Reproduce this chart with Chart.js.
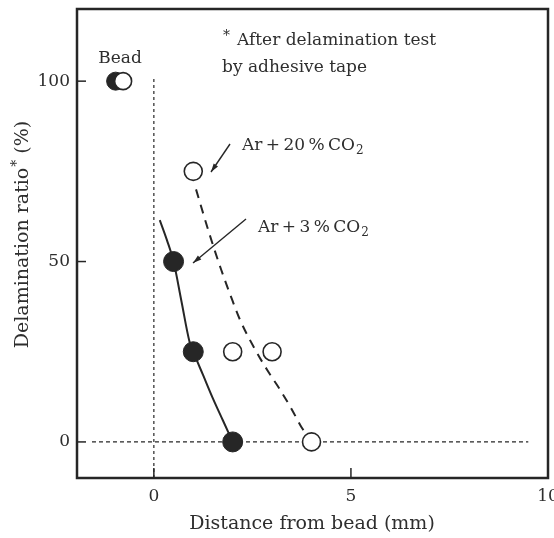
<!DOCTYPE html>
<html>
<head>
<meta charset="utf-8">
<script src="https://cdn.jsdelivr.net/npm/chart.js@4.4.1/dist/chart.umd.min.js"></script>
<style>
  html, body { margin: 0; padding: 0; background: #fff; }
  #wrap { width: 554px; height: 538px; }
</style>
</head>
<body>
<div id="wrap"><canvas id="chart" width="554" height="538"></canvas></div>
<script>
// tick values
const xTicks = [0, 5, 10];
const yTicks = [0, 50, 100];

// bead reference (half filled / half open symbol)
const beadFilledX = [-0.97];
const beadFilledY = [100];
const beadOpenX = [-0.78];
const beadOpenY = [100];

// Ar + 3% CO2 (filled circles)
const co2LowX = [0.5, 1, 2];
const co2LowY = [50, 25, 0];

// Ar + 20% CO2 (open circles)
const co2HighX = [1, 2, 3, 4];
const co2HighY = [75, 25, 25, 0];

// trend curves
const curveLowX = [0.15, 0.33, 0.5, 0.7, 0.9, 1.0, 1.25, 1.5, 1.75, 2.0];
const curveLowY = [61.5, 56, 50, 39, 28, 25, 18.5, 12, 6, 0];
const curveHighX = [1.07, 1.4, 1.7, 2.0, 2.2, 2.55, 2.9, 3.2, 3.5, 3.75, 3.95];
const curveHighY = [70, 58, 48, 39, 33.5, 26, 19.5, 14.5, 9, 4, 1];

// dotted reference lines
const vRefX = [0, 0];
const vRefY = [-10, 101];
const hRefX = [-1.57, 9.5];
const hRefY = [0, 0];

const ink = "#262626";
const txt = "#2e2e2e";
const serif = "'DejaVu Serif', serif";
const thin = "\u2009";

function pts(xs, ys) {
  return xs.map(function (x, i) { return { x: x, y: ys[i] }; });
}

// frame, inward ticks and annotation text
const decor = {
  id: "decor",
  afterDraw: function (chart) {
    const ctx = chart.ctx;
    const a = chart.chartArea;
    const sx = chart.scales.x, sy = chart.scales.y;
    ctx.save();
    ctx.strokeStyle = ink;
    ctx.lineWidth = 2.5;
    ctx.strokeRect(a.left, a.top, a.right - a.left, a.bottom - a.top);

    ctx.lineWidth = 1.5;
    yTicks.forEach(function (v) {
      const p = sy.getPixelForValue(v);
      ctx.beginPath(); ctx.moveTo(a.left, p); ctx.lineTo(a.left + 9, p); ctx.stroke();
    });
    xTicks.forEach(function (v) {
      const p = sx.getPixelForValue(v);
      ctx.beginPath(); ctx.moveTo(p, a.bottom); ctx.lineTo(p, a.bottom - 10); ctx.stroke();
    });

    // arrows
    function arrow(x1, y1, x2, y2) {
      const ang = Math.atan2(y2 - y1, x2 - x1);
      ctx.lineWidth = 1.4;
      ctx.beginPath(); ctx.moveTo(x1, y1); ctx.lineTo(x2, y2); ctx.stroke();
      ctx.beginPath();
      ctx.moveTo(x2, y2);
      ctx.lineTo(x2 - 9 * Math.cos(ang - 0.3), y2 - 9 * Math.sin(ang - 0.3));
      ctx.lineTo(x2 - 9 * Math.cos(ang + 0.3), y2 - 9 * Math.sin(ang + 0.3));
      ctx.closePath();
      ctx.fillStyle = ink;
      ctx.fill();
    }
    arrow(230, 144, 211, 172);
    arrow(246, 219, 193, 263);

    ctx.fillStyle = txt;
    ctx.textBaseline = "alphabetic";
    ctx.font = "17px " + serif;
    ctx.textAlign = "center";
    ctx.fillText("Bead", 120, 63);
    ctx.textAlign = "left";
    ctx.fillText("After delamination test", 237, 45);
    ctx.fillText("by adhesive tape", 222, 72);
    ctx.font = "14px " + serif;
    ctx.fillText("*", 223, 40);

    function gas(label, x, y) {
      ctx.font = "17px " + serif;
      ctx.fillText(label, x, y);
      const w = ctx.measureText(label).width;
      ctx.font = "12px " + serif;
      ctx.fillText("2", x + w + 1, y + 4);
    }
    gas("Ar" + thin + "+" + thin + "20" + thin + "%" + thin + "CO", 242, 150);
    gas("Ar" + thin + "+" + thin + "3" + thin + "%" + thin + "CO", 258, 232);

    // axis titles
    ctx.font = "19px " + serif;
    ctx.textAlign = "center";
    ctx.fillText("Distance from bead (mm)", 312, 529);

    ctx.translate(28, 235);
    ctx.rotate(-Math.PI / 2);
    const main = "Delamination ratio";
    const tail = " (%)";
    ctx.font = "19px " + serif;
    const w1 = ctx.measureText(main).width;
    const w3 = ctx.measureText(tail).width;
    ctx.font = "14px " + serif;
    const w2 = ctx.measureText("*").width;
    let x0 = -(w1 + w2 + w3) / 2;
    ctx.textAlign = "left";
    ctx.font = "19px " + serif;
    ctx.fillText(main, x0, 0);
    ctx.font = "14px " + serif;
    ctx.fillText("*", x0 + w1 + 1, -7);
    ctx.font = "19px " + serif;
    ctx.fillText(tail, x0 + w1 + w2 + 1, 0);
    ctx.restore();
  }
};

const ctx = document.getElementById("chart").getContext("2d");
new Chart(ctx, {
  type: "scatter",
  data: {
    datasets: [
      {
        label: "Bead (open)",
        data: pts(beadOpenX, beadOpenY),
        pointRadius: 8.5, pointBorderWidth: 1.6,
        backgroundColor: "#fff", borderColor: ink,
        order: 0
      },
      {
        label: "Bead (filled)",
        data: pts(beadFilledX, beadFilledY),
        pointRadius: 9, pointBorderWidth: 1,
        backgroundColor: ink, borderColor: ink,
        order: 1
      },
      {
        label: "Ar+3%CO2",
        data: pts(co2LowX, co2LowY),
        pointRadius: 10, pointBorderWidth: 1,
        backgroundColor: ink, borderColor: ink,
        order: 2
      },
      {
        label: "Ar+20%CO2",
        data: pts(co2HighX, co2HighY),
        pointRadius: 9, pointBorderWidth: 1.6,
        backgroundColor: "#fff", borderColor: ink,
        order: 3
      },
      {
        type: "line",
        label: "fit 3%",
        data: pts(curveLowX, curveLowY),
        borderColor: ink, borderWidth: 2,
        pointRadius: 0, cubicInterpolationMode: "monotone",
        order: 6
      },
      {
        type: "line",
        label: "fit 20%",
        data: pts(curveHighX, curveHighY),
        borderColor: ink, borderWidth: 2, borderDash: [9, 7],
        pointRadius: 0, cubicInterpolationMode: "monotone",
        order: 7
      },
      {
        type: "line",
        label: "x=0",
        data: pts(vRefX, vRefY),
        borderColor: ink, borderWidth: 1.2, borderDash: [3, 3],
        pointRadius: 0,
        order: 8
      },
      {
        type: "line",
        label: "y=0",
        data: pts(hRefX, hRefY),
        borderColor: ink, borderWidth: 1.2, borderDash: [4, 3],
        pointRadius: 0,
        order: 9
      }
    ]
  },
  options: {
    responsive: false,
    animation: false,
    layout: { autoPadding: false, padding: { top: 9, right: 6, left: 0, bottom: 0 } },
    plugins: { legend: { display: false }, tooltip: { enabled: false } },
    scales: {
      x: {
        type: "linear",
        min: -1.95, max: 10,
        grid: { display: false, drawTicks: false },
        border: { display: false },
        afterBuildTicks: function (s) { s.ticks = xTicks.map(function (v) { return { value: v }; }); },
        afterFit: function (s) { s.height = 60; s.paddingLeft = 0; s.paddingRight = 0; },
        ticks: { color: txt, font: { family: serif, size: 17 }, padding: 8, maxRotation: 0 }
      },
      y: {
        type: "linear",
        min: -10, max: 120,
        grid: { display: false, drawTicks: false },
        border: { display: false },
        afterBuildTicks: function (s) { s.ticks = yTicks.map(function (v) { return { value: v }; }); },
        afterFit: function (s) { s.width = 77; s.paddingTop = 0; s.paddingBottom = 0; },
        ticks: { color: txt, font: { family: serif, size: 17 }, padding: 7 }
      }
    }
  },
  plugins: [decor]
});
</script>
</body>
</html>
